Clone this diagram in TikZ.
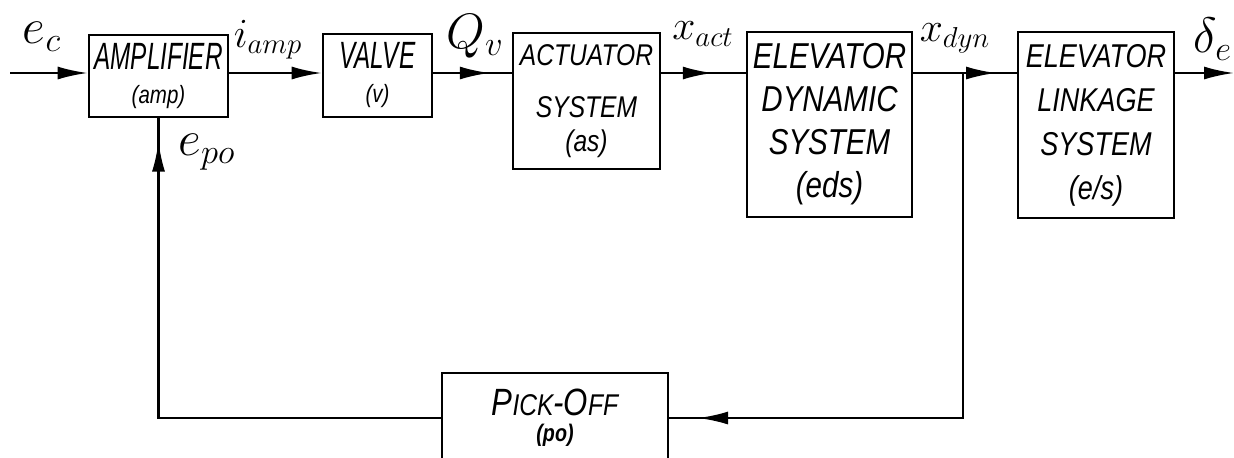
\documentclass[tikz,border=0pt]{standalone}
\usepackage{fontspec}
\newfontfamily\hand[FakeStretch=0.82]{Liberation Sans}
\newfontfamily\handn[FakeStretch=0.64]{Liberation Sans}
\usetikzlibrary{arrows.meta,decorations.markings}
\begin{document}
\begin{tikzpicture}[x=0.5pt,y=-0.5pt,
  blk/.style={draw, line width=1.3pt, inner sep=0pt, align=center,
    font=\hand\itshape\fontsize{14}{21}\selectfont},
  wire/.style={line width=1.2pt},
  tip/.style={-{Latex[length=15pt,width=6.5pt]}},
  midtip/.style={postaction={decorate}, decoration={markings,
    mark=at position #1 with {\arrow{Latex[length=15pt,width=6.5pt]}}}},
  lbl/.style={font=\fontsize{25}{28}\selectfont, inner sep=0pt}]
\useasboundingbox[fill=white] (0,0) rectangle (1234,457);

% blocks
\node[blk, minimum width=69.5pt, minimum height=41pt, font=\handn\itshape\fontsize{19}{21}\selectfont] (amp) at (158.5,76)
  {\raisebox{3pt}{AMPLIFIER}\\[-7pt]{\hand\fontsize{12.5}{13}\selectfont (amp)}};
\node[blk, minimum width=54.5pt, minimum height=41.5pt, font=\handn\itshape\fontsize{19}{21}\selectfont] (valve) at (377.5,75.5)
  {\raisebox{3pt}{VALVE}\\[-7pt]{\hand\fontsize{12.5}{13}\selectfont (v)}};
\node[blk, minimum width=73.5pt, minimum height=68pt, font=\hand\itshape\fontsize{15}{21}\selectfont] (act) at (586.5,101)
  {ACTUATOR\\[5pt]SYSTEM\\[-4pt](as)};
\node[blk, minimum width=82.5pt, minimum height=92.5pt, font=\hand\itshape\fontsize{18}{21.5}\selectfont] (eds) at (829.5,124.5)
  {ELEVATOR\\DYNAMIC\\SYSTEM\\(eds)};
\node[blk, minimum width=78pt, minimum height=93pt, font=\hand\itshape\fontsize{16.5}{22}\selectfont] (els) at (1096,125)
  {ELEVATOR\\LINKAGE\\SYSTEM\\(e/s)};
\node[blk, minimum width=113pt, minimum height=45pt, font=\hand\itshape\fontsize{19}{21}\selectfont] (po) at (555,418)
  {P{\fontsize{15}{16}\selectfont ICK}-O{\fontsize{15}{16}\selectfont FF}\\[-8pt]{\fontsize{12}{13}\selectfont\bfseries (po)}};

% free ends
\coordinate (in) at (10,73);
\coordinate (out) at (1234,73);
\coordinate (br) at (963,73);

% connectors
\draw[wire, tip] (in) -- (amp.west |- in);
\draw[wire, tip] (amp.east |- in) -- (valve.west |- in);
\draw[wire, midtip=0.72] (valve.east |- in) -- (act.west |- in);
\draw[wire, midtip=0.61] (act.east |- in) -- (eds.west |- in);
\draw[wire, midtip=0.8] (eds.east |- in) -- (els.west |- in);
\draw[wire, tip] (els.east |- in) -- (out);
\draw[wire, midtip=0.955] (br) |- (po.east);
\draw[wire, midtip=0.96] (po.west) -| (amp.south);

% labels
\node[lbl] (lec) at (42,37) {$e_c$};
\node[lbl, font=\fontsize{22}{24}\selectfont] (liamp) at (268,40) {$i_{amp}$};
\node[lbl] (lqv) at (475,36) {$Q_v$};
\node[lbl, font=\fontsize{22}{24}\selectfont] (lxact) at (703,34) {$x_{act}$};
\node[lbl, font=\fontsize{22}{24}\selectfont] (lxdyn) at (955,38) {$x_{dyn}$};
\node[lbl] (lde) at (1213,39) {$\delta_e$};
\node[lbl] (lepo) at (207,152) {$e_{po}$};
\end{tikzpicture}
\end{document}
